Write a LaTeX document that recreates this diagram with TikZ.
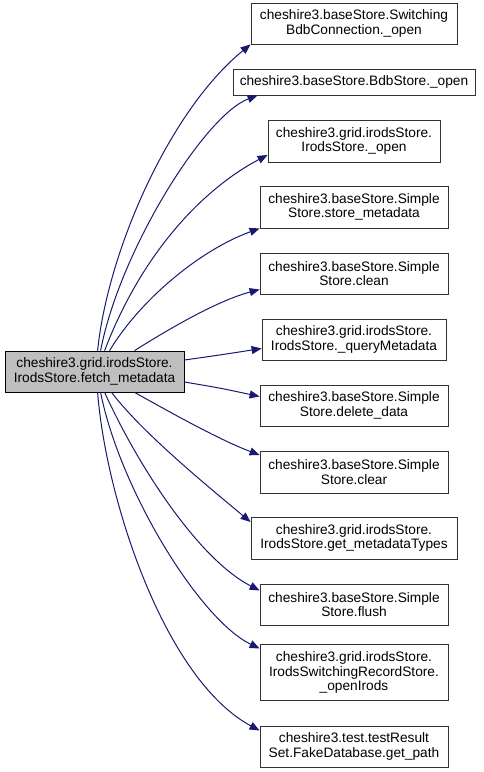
\documentclass[tikz,border=0pt]{standalone}
\usepackage{fontspec}
\setmainfont{Liberation Sans}
\usetikzlibrary{arrows.meta}
\definecolor{edgeblue}{HTML}{191970}

\begin{document}
\begin{tikzpicture}[x=1pt, y=-1pt,
    fnbox/.style={draw=black!80, fill=white, line width=0.8pt, align=center,
      inner sep=0pt, font=\fontsize{13.7}{14.5}\selectfont},
    srcbox/.style={fnbox, fill=black!25, draw=black},
    call/.style={draw=edgeblue, line width=1pt,
      -{Triangle[length=10pt,width=8pt]}}]

  \useasboundingbox (0,0) rectangle (483,772);

  % ---- caller ----
  \node[srcbox, minimum width=179pt, minimum height=41pt] (src) at (94.5,371.5)
    {cheshire3.grid.irodsStore.\\IrodsStore.fetch\_metadata};

  % ---- callees: {name / y-centre / width / height / label} ----
  \foreach \nm/\yy/\ww/\hh/\lab in {
      t1/23.5/206/41/{cheshire3.baseStore.Switching\\BdbConnection.\_open},
      t2/82/242/26/{cheshire3.baseStore.BdbStore.\_open},
      t3/141/172/42/{cheshire3.grid.irodsStore.\\IrodsStore.\_open},
      t4/207/188/42/{cheshire3.baseStore.Simple\\Store.store\_metadata},
      t5/273.5/188/41/{cheshire3.baseStore.Simple\\Store.clean},
      t6/339.5/184/41/{cheshire3.grid.irodsStore.\\IrodsStore.\_queryMetadata},
      t7/405.5/188/41/{cheshire3.baseStore.Simple\\Store.delete\_data},
      t8/472/188/42/{cheshire3.baseStore.Simple\\Store.clear},
      t9/538/206/42/{cheshire3.grid.irodsStore.\\IrodsStore.get\_metadataTypes},
      t10/604.5/188/41/{cheshire3.baseStore.Simple\\Store.flush},
      t11/672.5/188/56/{cheshire3.grid.irodsStore.\\IrodsSwitchingRecordStore.\\\_openIrods},
      t12/746.5/188/41/{cheshire3.test.testResult\\Set.FakeDatabase.get\_path}} {
    \node[fnbox, minimum width=\ww pt, minimum height=\hh pt] (\nm) at (354,\yy) {\lab};
  }

  % ---- calls above the caller ----
  \draw[call] ([xshift=93pt]src.north west) .. controls (108,250) and (170,110) .. (t1.south west);
  \draw[call] ([xshift=96pt]src.north west) .. controls (120,250) and (205,115) .. ([xshift=25pt]t2.south west);
  \draw[call] ([xshift=100pt]src.north west) .. controls (145,245) and (210,185) .. ([yshift=-14pt]t3.west);
  \draw[call] ([xshift=105pt]src.north west) .. controls (140,300) and (200,250) .. (t4.south west);
  \draw[call] ([xshift=130pt]src.north west) .. controls (175,325) and (220,300) .. ([yshift=-16pt]t5.west);
  \draw[call] ([yshift=11.5pt]src.east) .. controls (220,355) .. ([yshift=-9pt]t6.west);

  % ---- calls below the caller ----
  \draw[call] ([yshift=-10.5pt]src.east) .. controls (220,388) .. ([yshift=9pt]t7.west);
  \draw[call] ([xshift=130pt]src.south west) .. controls (175,415) and (220,440) .. ([yshift=17pt]t8.west);
  \draw[call] ([xshift=107pt]src.south west) .. controls (140,430) and (200,480) .. ([yshift=16pt]t9.west);
  \draw[call] ([xshift=100pt]src.south west) .. controls (140,470) and (200,560) .. ([yshift=14pt]t10.west);
  \draw[call] ([xshift=96pt]src.south west) .. controls (120,490) and (200,620) .. ([yshift=24pt]t11.west);
  \draw[call] ([xshift=93pt]src.south west) .. controls (106,500) and (165,680) .. ([yshift=16pt]t12.west);

\end{tikzpicture}
\end{document}
